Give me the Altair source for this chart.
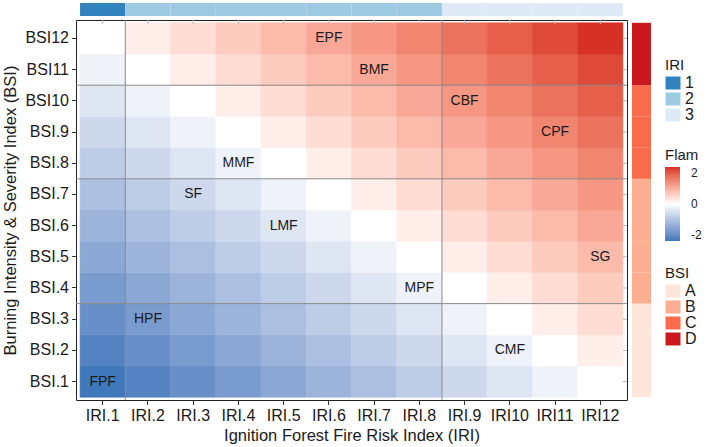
import altair as alt
import pandas as pd

iri_labels = ["IRI.1", "IRI.2", "IRI.3", "IRI.4", "IRI.5", "IRI.6",
              "IRI.7", "IRI.8", "IRI.9", "IRI10", "IRI11", "IRI12"]
bsi_labels = ["BSI.1", "BSI.2", "BSI.3", "BSI.4", "BSI.5", "BSI.6",
              "BSI.7", "BSI.8", "BSI.9", "BSI10", "BSI11", "BSI12"]
iri_groups = ["1", "2", "2", "2", "2", "2", "2", "2", "3", "3", "3", "3"]
bsi_groups = ["A", "A", "A", "B", "B", "B", "B", "C", "C", "C", "D", "D"]

# rows: BSI.1 .. BSI12 ; columns: IRI.1 .. IRI12
flam = [
    [-2.42, -2.20, -1.98, -1.76, -1.54, -1.32, -1.10, -0.88, -0.66, -0.44, -0.22, 0.00],
    [-2.20, -1.98, -1.76, -1.54, -1.32, -1.10, -0.88, -0.66, -0.44, -0.22, 0.00, 0.22],
    [-1.98, -1.76, -1.54, -1.32, -1.10, -0.88, -0.66, -0.44, -0.22, 0.00, 0.22, 0.44],
    [-1.76, -1.54, -1.32, -1.10, -0.88, -0.66, -0.44, -0.22, 0.00, 0.22, 0.44, 0.66],
    [-1.54, -1.32, -1.10, -0.88, -0.66, -0.44, -0.22, 0.00, 0.22, 0.44, 0.66, 0.88],
    [-1.32, -1.10, -0.88, -0.66, -0.44, -0.22, 0.00, 0.22, 0.44, 0.66, 0.88, 1.10],
    [-1.10, -0.88, -0.66, -0.44, -0.22, 0.00, 0.22, 0.44, 0.66, 0.88, 1.10, 1.32],
    [-0.88, -0.66, -0.44, -0.22, 0.00, 0.22, 0.44, 0.66, 0.88, 1.10, 1.32, 1.54],
    [-0.66, -0.44, -0.22, 0.00, 0.22, 0.44, 0.66, 0.88, 1.10, 1.32, 1.54, 1.76],
    [-0.44, -0.22, 0.00, 0.22, 0.44, 0.66, 0.88, 1.10, 1.32, 1.54, 1.76, 1.98],
    [-0.22, 0.00, 0.22, 0.44, 0.66, 0.88, 1.10, 1.32, 1.54, 1.76, 1.98, 2.20],
    [0.00, 0.22, 0.44, 0.66, 0.88, 1.10, 1.32, 1.54, 1.76, 1.98, 2.20, 2.42],
]

cell_text = ["EPF", "BMF", "CBF", "CPF", "MMF", "SF", "LMF", "SG", "MPF", "HPF", "CMF", "FPF"]
cell_iri = ["IRI.6", "IRI.7", "IRI.9", "IRI11", "IRI.4", "IRI.3", "IRI.5", "IRI12", "IRI.8", "IRI.2", "IRI10", "IRI.1"]
cell_bsi = ["BSI12", "BSI11", "BSI10", "BSI.9", "BSI.8", "BSI.7", "BSI.6", "BSI.5", "BSI.4", "BSI.3", "BSI.2", "BSI.1"]

v_rule_iri = ["IRI.2", "IRI.9"]          # line at left edge of these columns
h_rule_bsi = ["BSI.4", "BSI.8", "BSI11"]  # line at lower edge of these rows

heat_df = pd.DataFrame(
    [{"IRI": iri_labels[c], "BSI": bsi_labels[r], "Flam": flam[r][c]}
     for r in range(12) for c in range(12)]
)
iri_df = pd.DataFrame({"IRI": iri_labels, "grp": iri_groups})
bsi_df = pd.DataFrame({"BSI": bsi_labels, "grp": bsi_groups})
txt_df = pd.DataFrame({"IRI": cell_iri, "BSI": cell_bsi, "lab": cell_text})
vr_df = pd.DataFrame({"IRI": v_rule_iri})
hr_df = pd.DataFrame({"BSI": h_rule_bsi})

W, H = 551, 380
FONT = "Liberation Sans"
TXT = "#1a1a1a"

xscale = alt.Scale(domain=iri_labels, paddingInner=0, paddingOuter=0.09)
yscale = alt.Scale(domain=bsi_labels[::-1], paddingInner=0, paddingOuter=0.09)

x_axis = alt.Axis(title="Ignition Forest Fire Risk Index (IRI)", labelAngle=0,
                  labelFontSize=16, labelColor=TXT, labelPadding=3,
                  tickSize=4.5, tickColor="#333333", domain=False, grid=False,
                  titleFontSize=16.5, titleFontWeight="normal", titleColor=TXT,
                  titlePadding=4)
y_axis = alt.Axis(title="Burning Intensity & Severity Index (BSI)",
                  labelFontSize=16, labelColor=TXT, labelPadding=3,
                  tickSize=4.5, tickColor="#333333", domain=False, grid=False,
                  titleFontSize=16.5, titleFontWeight="normal", titleColor=TXT,
                  titlePadding=6)

flam_scale = alt.Scale(domain=[-2.42, 0, 2.42],
                       range=["#3f78bb", "#ffffff", "#d73027"],
                       interpolate="lab")

rect_sym = "M-1,-0.867H1V0.867H-1Z"

heat = alt.Chart(heat_df).mark_rect(strokeWidth=0.6).encode(
    x=alt.X("IRI:N", scale=xscale, axis=x_axis),
    y=alt.Y("BSI:N", scale=yscale, axis=y_axis),
    color=alt.Color("Flam:Q", scale=flam_scale,
                    legend=alt.Legend(title="Flam", orient="none", legendX=589, legendY=128,
                                      direction="vertical", gradientLength=74,
                                      gradientThickness=15, values=[-2, 0, 2],
                                      labelExpr="datum.value < 0 ? '-' + abs(datum.value) : '' + datum.value",
                                      labelFontSize=12, labelColor=TXT, labelOffset=11,
                                      titleFontSize=15, titleFontWeight="normal", titleColor=TXT,
                                      titlePadding=4, padding=0, gradientStrokeWidth=0)),
    stroke=alt.Stroke("Flam:Q", scale=flam_scale, legend=None),
)

top_bar = alt.Chart(iri_df).mark_rect().encode(
    x=alt.X("IRI:N", scale=xscale, axis=x_axis),
    y=alt.value(-17), y2=alt.value(-4),
    color=alt.Color("grp:N",
                    scale=alt.Scale(domain=["1", "2", "3"],
                                    range=["#3182bd", "#9ecae1", "#deebf7"]),
                    legend=alt.Legend(title="IRI", orient="none", legendX=589, legendY=38,
                                      symbolType=rect_sym, symbolSize=225, symbolStrokeWidth=0,
                                      labelFontSize=16, labelColor=TXT, labelOffset=4,
                                      rowPadding=-3, titleFontSize=15, titleFontWeight="normal",
                                      titleColor=TXT, titlePadding=2, padding=0)),
)

right_bar = alt.Chart(bsi_df).mark_rect().encode(
    y=alt.Y("BSI:N", scale=yscale, axis=y_axis),
    x=alt.value(W + 5), x2=alt.value(W + 24),
    color=alt.Color("grp:N",
                    scale=alt.Scale(domain=["A", "B", "C", "D"],
                                    range=["#fee5d9", "#fcae91", "#fb6a4a", "#cb181d"]),
                    legend=alt.Legend(title="BSI", orient="none", legendX=589, legendY=246,
                                      symbolType=rect_sym, symbolSize=225, symbolStrokeWidth=0,
                                      labelFontSize=16, labelColor=TXT, labelOffset=4,
                                      rowPadding=-3, titleFontSize=15, titleFontWeight="normal",
                                      titleColor=TXT, titlePadding=2, padding=0)),
)

vrules = alt.Chart(vr_df).mark_rule(color="#8a8a8a", strokeWidth=1).encode(
    x=alt.X("IRI:N", scale=xscale, axis=x_axis, bandPosition=0),
)
hrules = alt.Chart(hr_df).mark_rule(color="#8a8a8a", strokeWidth=1).encode(
    y=alt.Y("BSI:N", scale=yscale, axis=y_axis, bandPosition=1),
)

top_ticks = alt.Chart(iri_df).mark_rule(color="#b5b5b5", strokeWidth=1).encode(
    x=alt.X("IRI:N", scale=xscale, axis=x_axis),
    y=alt.value(0), y2=alt.value(4),
)
right_ticks = alt.Chart(bsi_df).mark_rule(color="#b5b5b5", strokeWidth=1).encode(
    y=alt.Y("BSI:N", scale=yscale, axis=y_axis),
    x=alt.value(W - 4), x2=alt.value(W),
)

labels = alt.Chart(txt_df).mark_text(fontSize=14, color=TXT, font=FONT).encode(
    x=alt.X("IRI:N", scale=xscale, axis=x_axis),
    y=alt.Y("BSI:N", scale=yscale, axis=y_axis),
    text="lab:N",
)

chart = alt.layer(
    heat, top_bar, right_bar, vrules, hrules, top_ticks, right_ticks, labels
).resolve_scale(color="independent").properties(
    width=W, height=H,
    autosize=alt.AutoSizeParams(type="none"),
    padding={"left": 76, "top": 20, "right": 82, "bottom": 47},
    background="white",
).configure(font=FONT).configure_view(stroke="#222222", strokeWidth=1)

chart.save("out.html", embed_options={"renderer": "svg", "actions": False})
